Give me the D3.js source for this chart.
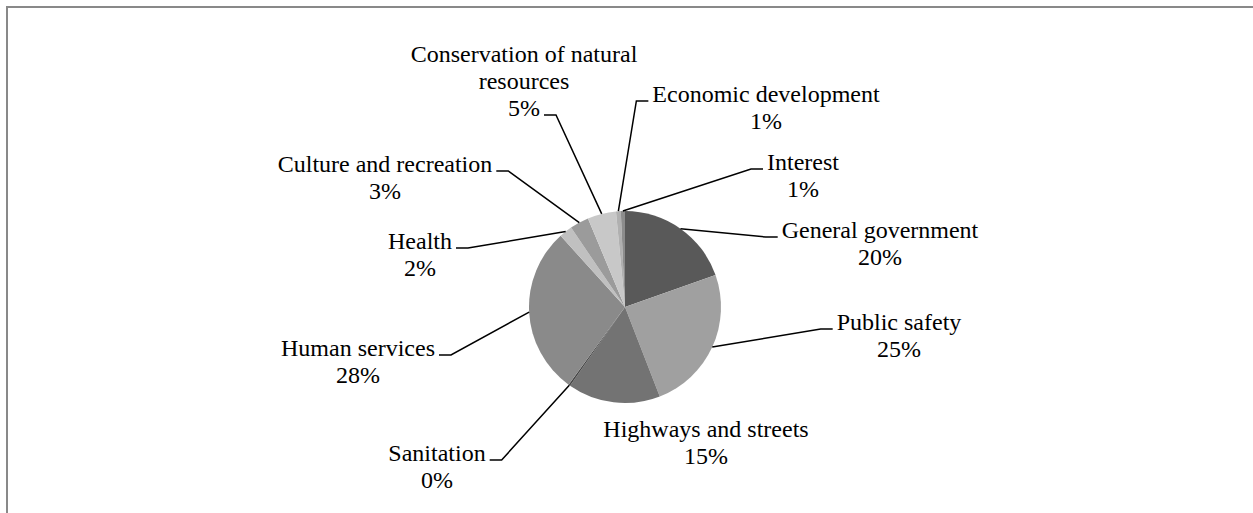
<!DOCTYPE html>
<html>
<head>
<meta charset="utf-8">
<script src="https://cdn.jsdelivr.net/npm/d3@7/dist/d3.min.js"></script>
<style>
  html, body { margin: 0; padding: 0; background: #fff; }
  svg { display: block; }
</style>
</head>
<body>
<svg id="chart" width="1253" height="513"></svg>
<script>
// ---- data ----
const categories = [
  "General government", "Public safety", "Highways and streets", "Sanitation",
  "Human services", "Health", "Culture and recreation",
  "Conservation of natural resources", "Economic development", "Interest"
];
const values = [19.6, 24.5, 15.6, 0.3, 28.3, 2.2, 3.2, 4.8, 0.8, 0.7];
const percentLabels = ["20%", "25%", "15%", "0%", "28%", "2%", "3%", "5%", "1%", "1%"];
const labelLines = [
  ["General government"], ["Public safety"], ["Highways and streets"], ["Sanitation"],
  ["Human services"], ["Health"], ["Culture and recreation"],
  ["Conservation of natural", "resources"], ["Economic development"], ["Interest"]
];
const colors = ["#595959", "#a0a0a0", "#737373", "#454545", "#8a8a8a",
                "#c0c0c0", "#9b9b9b", "#c8c8c8", "#b0b0b0", "#8c8c8c"];

// ---- layout (label anchors: centre x, first baseline y, leader side) ----
const labelLayout = [
  {cx: 880, by: 238, side: "right"},
  {cx: 899, by: 330, side: "right"},
  {cx: 706, by: 437, side: "none"},
  {cx: 437, by: 461, side: "left"},
  {cx: 358, by: 356, side: "left"},
  {cx: 420, by: 249, side: "left"},
  {cx: 385, by: 172, side: "left"},
  {cx: 524, by: 62,  side: "left", attachLast: true},
  {cx: 766, by: 102, side: "right"},
  {cx: 803, by: 170, side: "right"}
];

const W = 1253, H = 513;
const cx = 625, cy = 307, R = 96;
const lineH = 27;

const svg = d3.select("#chart");

svg.append("rect")
  .attr("x", 7).attr("y", 7)
  .attr("width", 1400).attr("height", 700)
  .attr("fill", "none")
  .attr("stroke", "#898989")
  .attr("stroke-width", 2);

const pie = d3.pie().sort(null).value(d => d);
const arcs = pie(values);
const arc = d3.arc().innerRadius(0).outerRadius(R);

const g = svg.append("g").attr("transform", `translate(${cx},${cy})`);
g.selectAll("path.slice")
  .data(arcs)
  .join("path")
  .attr("class", "slice")
  .attr("d", arc)
  .attr("fill", (d, i) => colors[i]);

// labels
const labelsG = svg.append("g")
  .attr("font-family", "'Liberation Serif', 'Times New Roman', serif")
  .attr("font-size", 24)
  .attr("fill", "#000");

const leaderG = svg.append("g")
  .attr("stroke", "#000")
  .attr("stroke-width", 1.5)
  .attr("fill", "none");

arcs.forEach((a, i) => {
  const L = labelLayout[i];
  const lines = labelLines[i].concat([percentLabels[i]]);
  const t = labelsG.append("text")
    .attr("text-anchor", "middle");
  const tspans = lines.map((ln, k) =>
    t.append("tspan")
      .attr("x", L.cx)
      .attr("y", L.by + k * lineH)
      .text(ln)
  );
  if (L.side === "none") return;
  const k = L.attachLast ? lines.length - 1 : 0;
  const w = tspans[k].node().getComputedTextLength();
  const ly = L.by + k * lineH - 1;
  const gap = 4, len = 12;
  const mid = (a.startAngle + a.endAngle) / 2;
  const px = cx + R * Math.sin(mid);
  const py = cy - R * Math.cos(mid);
  let x1, x2;
  if (L.side === "left") {
    x1 = L.cx + w / 2 + gap;
    x2 = x1 + len;
  } else {
    x1 = L.cx - w / 2 - gap;
    x2 = x1 - len;
  }
  leaderG.append("path")
    .attr("d", d3.line()([[x1, ly], [x2, ly], [px, py]]));
});
</script>
</body>
</html>
